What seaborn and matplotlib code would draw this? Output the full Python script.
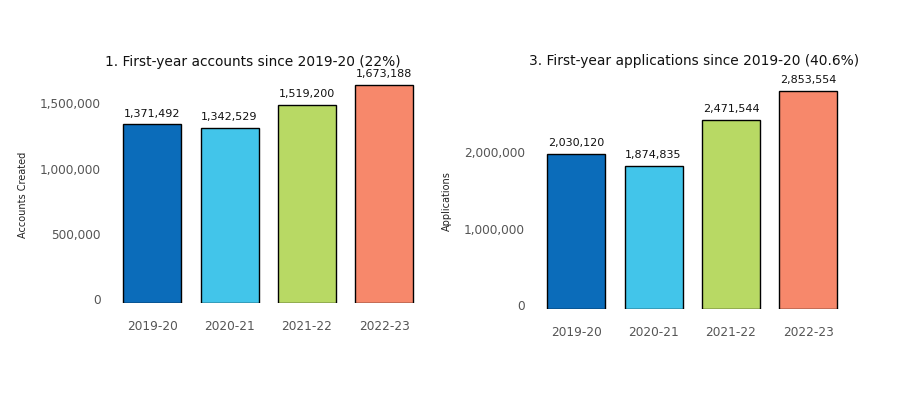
import matplotlib
matplotlib.use("Agg")
import matplotlib.pyplot as plt
import matplotlib.transforms as mtransforms
import seaborn as sns
import pandas as pd
from matplotlib.ticker import FuncFormatter

# --- Data ---
years = ["2019-20", "2020-21", "2021-22", "2022-23"]
accounts = [1371492, 1342529, 1519200, 1673188]
applications = [2030120, 1874835, 2471544, 2853554]
colors = ["#0b6cba", "#42c5ea", "#b8d964", "#f7886b"]

sns.set_theme(style="white")
plt.rcParams['font.family'] = ['DejaVu Sans']

fig = plt.figure(figsize=(9.08, 3.96), dpi=100)
W, H = 908, 396


def add_ax(left, right, top, bottom):
    return fig.add_axes([left / W, 1 - bottom / H, (right - left) / W, (bottom - top) / H])


def draw(ax, values, ylabel, label_y, title, title_x, ymax, ticks):
    df = pd.DataFrame({"year": years, "value": values})
    sns.barplot(data=df, x="year", y="value", hue="year", palette=colors,
                legend=False, width=0.75, edgecolor="black", linewidth=1,
                saturation=1, ax=ax)
    ax.set_ylim(0, ymax)
    ax.set_xlim(-0.5, 3.5)
    ax.set_yticks(ticks)
    ax.yaxis.set_major_formatter(FuncFormatter(lambda v, p: f"{int(v):,}"))
    ax.tick_params(axis="both", colors="#555555", labelsize=8.7, length=0)
    ax.tick_params(axis="x", pad=12)
    ax.tick_params(axis="y", pad=9)
    # tick labels sit a little above their values in the original
    shift = mtransforms.ScaledTranslation(0, 4 / 100, fig.dpi_scale_trans)
    for lab in ax.get_yticklabels():
        lab.set_transform(lab.get_transform() + shift)
    ax.set_xlabel("")
    ax.set_ylabel(ylabel, fontsize=7, color="#222222")
    ax.yaxis.set_label_coords(-0.276, label_y)
    ax.set_title(title, fontsize=9.9, x=title_x, pad=6, color="#111111")
    for p, v in zip(ax.patches, values):
        ax.annotate(f"{v:,}", (p.get_x() + p.get_width() / 2, p.get_height()),
                    ha="center", va="bottom", xytext=(0, 4),
                    textcoords="offset points", fontsize=8, color="#111111")
    sns.despine(ax=ax, left=True, bottom=True)
    ax.grid(False)


ax1 = add_ax(113.5, 423, 74, 303.3)
draw(ax1, accounts, "Accounts Created", 0.475,
     "1. First-year accounts since 2019-20 (22%)", 0.45,
     1756000, [0, 500000, 1000000, 1500000])

ax2 = add_ax(537.5, 847, 73, 309.3)
draw(ax2, applications, "Applications", 0.46,
     "3. First-year applications since 2019-20 (40.6%)", 0.506,
     3085000, [0, 1000000, 2000000])

fig.savefig("out.png", dpi=100)
